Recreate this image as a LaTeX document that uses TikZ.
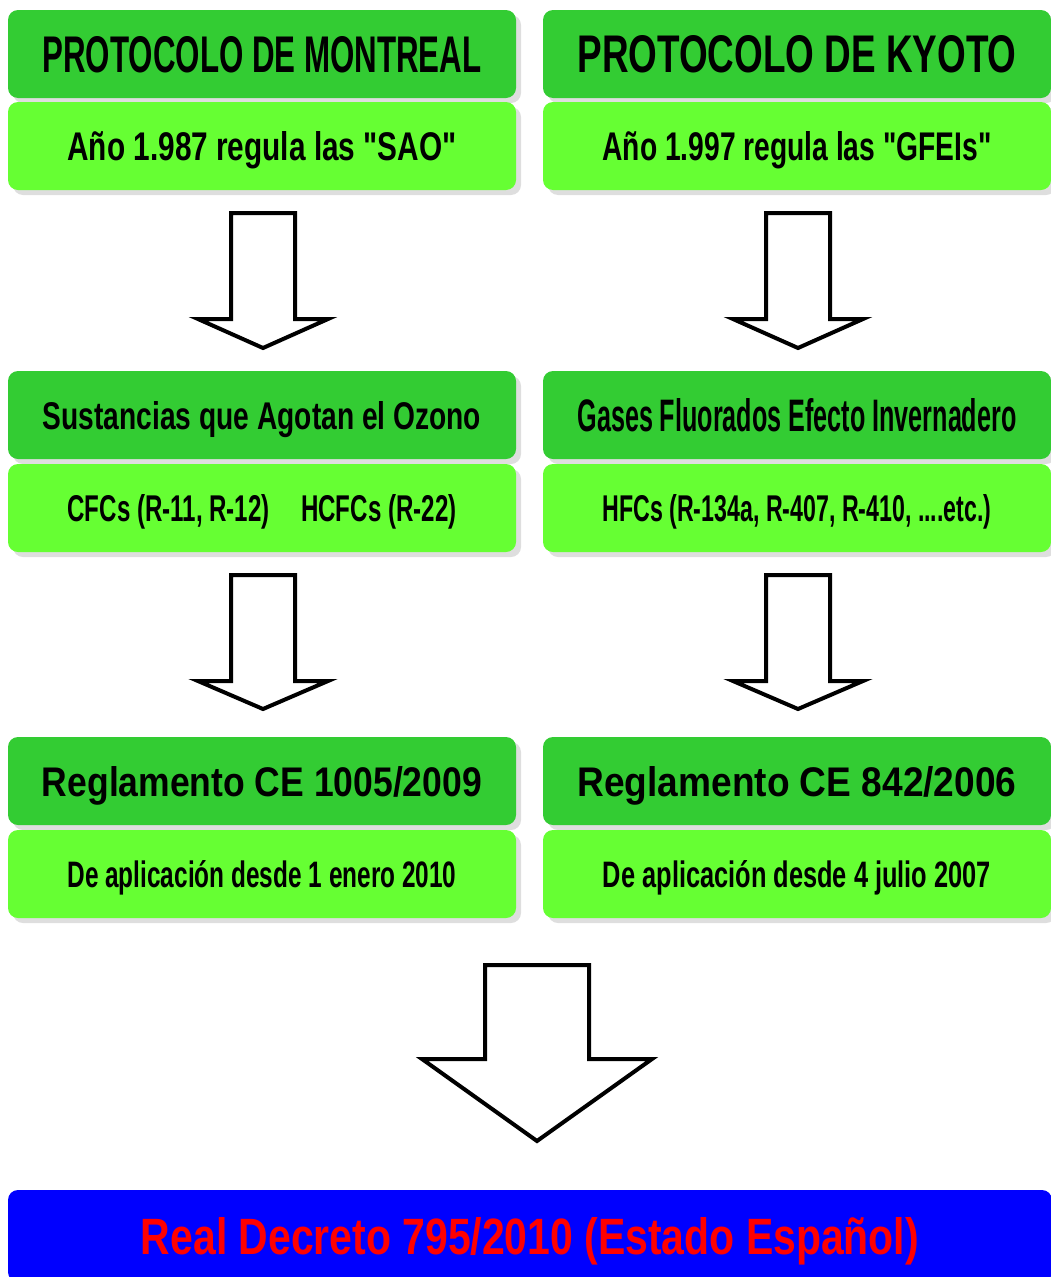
\documentclass[tikz,border=0pt]{standalone}
\usepackage{fontspec}
\setmainfont{Liberation Sans}[Ligatures=TeXOff]
\usepackage{graphicx}
\usetikzlibrary{shadows}
\definecolor{dkgreen}{HTML}{33CC33}
\definecolor{ltgreen}{HTML}{66FF33}
\definecolor{bblue}{HTML}{0000FF}
\definecolor{rred}{HTML}{FF0000}
\newcommand{\fittxt}[3]{\resizebox{#1pt}{#2pt}{\bfseries #3}}
\newcommand{\blockarrow}[6]{%
  \draw[blockarrowstyle] (#1-#5,#2) -- (#1+#5,#2) -- (#1+#5,#3) -- (#1+#6,#3)
    -- (#1,#4) -- (#1-#6,#3) -- (#1-#5,#3) -- cycle;}
\begin{document}
\begin{tikzpicture}[x=1pt,y=-1pt,
  basebox/.style={rounded corners=10pt, minimum width=508pt, minimum height=88pt,
    inner sep=0pt, text depth=0pt,
    drop shadow={shadow xshift=5pt, shadow yshift=-5pt, fill=black!13, opacity=1}},
  darkbox/.style={basebox, fill=dkgreen},
  lightbox/.style={basebox, fill=ltgreen},
  bluebox/.style={basebox, fill=bblue, text=rred, minimum width=1044pt, minimum height=92pt},
  blockarrowstyle/.style={draw=black, fill=white, line width=4pt, miter limit=10}
]
\useasboundingbox (0,0) rectangle (1050,1277);

% row 1
\node[darkbox, text height=36pt] (mont) at (262,54) {\fittxt{439}{36}{PROTOCOLO DE MONTREAL}};
\node[lightbox, text height=29pt] (montyr) at (262,146) {\fittxt{389}{29}{Año 1.987 regula las "SAO"}};
\node[darkbox, text height=37pt] (kyo) at (797,54) {\fittxt{439}{37}{PROTOCOLO DE KYOTO}};
\node[lightbox, text height=29pt] (kyoyr) at (797,146) {\fittxt{389}{29}{Año 1.997 regula las "GFEIs"}};

% row 2
\node[darkbox, text height=28pt] (sao) at (262,415) {\fittxt{438}{28}{Sustancias que Agotan el Ozono}};
\node[lightbox, text height=27pt] (saolist) at (262,508) {\fittxt{389}{27}{CFCs (R-11, R-12)\hspace{1.3em}HCFCs (R-22)}};
\node[darkbox, text height=33pt] (gfei) at (797,415) {\fittxt{439}{33}{Gases Fluorados Efecto Invernadero}};
\node[lightbox, text height=27pt] (gfeilist) at (797,508) {\fittxt{389}{27}{HFCs (R-134a, R-407, R-410, ....etc.)}};

% row 3
\node[darkbox, text height=30pt] (reg1) at (262,781) {\fittxt{440}{30}{Reglamento CE 1005/2009}};
\node[lightbox, text height=27pt] (reg1d) at (262,874) {\fittxt{389}{27}{De aplicación desde 1 enero 2010}};
\node[darkbox, text height=30pt] (reg2) at (797,781) {\fittxt{439}{30}{Reglamento CE 842/2006}};
\node[lightbox, text height=27pt] (reg2d) at (797,874) {\fittxt{388}{27}{De aplicación desde 4 julio 2007}};

% bottom
\node[bluebox, text height=37pt] (rd) at (530,1236) {\fittxt{778}{37}{Real Decreto 795/2010 (Estado Español)}};

% block arrows
\blockarrow{263}{213}{319}{348}{32}{65}
\blockarrow{798}{213}{319}{348}{32}{65}
\blockarrow{263}{575}{681}{709}{32}{65}
\blockarrow{798}{575}{681}{709}{32}{65}
\blockarrow{537}{965}{1059}{1141}{52}{115}
\end{tikzpicture}
\end{document}
